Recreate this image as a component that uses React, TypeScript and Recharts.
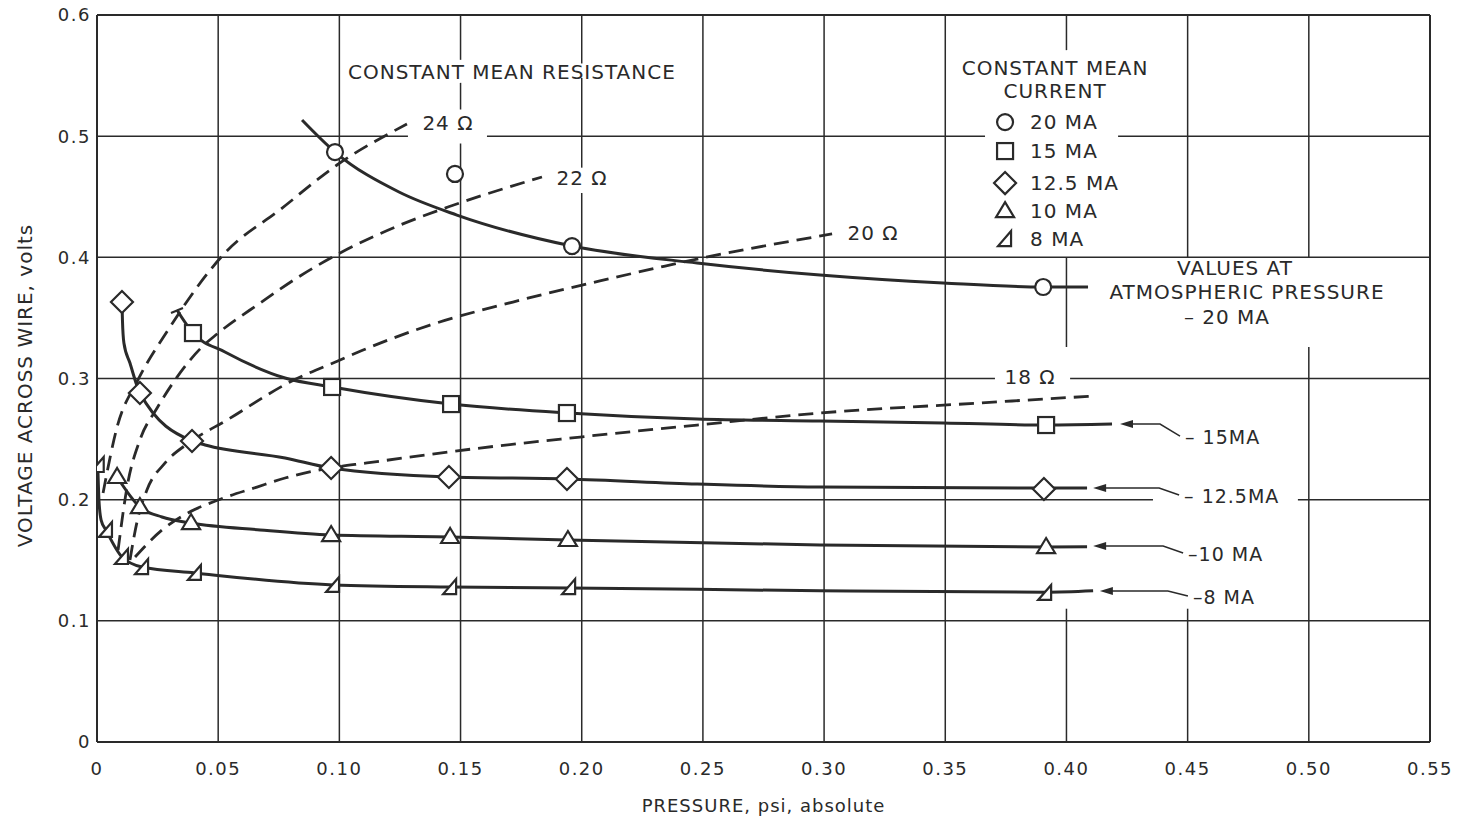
import React from 'react';
import { ComposedChart, Line, Scatter, XAxis, YAxis, ReferenceLine, ReferenceDot } from 'recharts';

const INK = '#2a2a2a';
const FONT = '"DejaVu Sans", Verdana, sans-serif';

const xTicks = [0, 0.05, 0.1, 0.15, 0.2, 0.25, 0.3, 0.35, 0.4, 0.45, 0.5, 0.55];
const yTicks = [0, 0.1, 0.2, 0.3, 0.4, 0.5, 0.6];

// constant mean current, faired curves [pressure, volts]
const ma20Curve = [[0.0846, 0.5133], [0.0982, 0.4869], [0.1246, 0.4539], [0.1485, 0.4349], [0.196, 0.4093], [0.2476, 0.3953], [0.2983, 0.3854], [0.3491, 0.3788], [0.3904, 0.3755], [0.4089, 0.3755]];
const ma15Curve = [[0.033, 0.3565], [0.0396, 0.3375], [0.0528, 0.3219], [0.0776, 0.3004], [0.097, 0.293], [0.1461, 0.2789], [0.1943, 0.2715], [0.2476, 0.2666], [0.2983, 0.2649], [0.3491, 0.2633], [0.3916, 0.2616], [0.4188, 0.2624]];
const ma125Curve = [[0.0103, 0.3631], [0.0105, 0.3483], [0.0111, 0.3293], [0.0136, 0.3128], [0.0177, 0.288], [0.0392, 0.2484], [0.0446, 0.2451], [0.0776, 0.2344], [0.0966, 0.2261], [0.1452, 0.2187], [0.1939, 0.2171], [0.2476, 0.2129], [0.2983, 0.2104], [0.3907, 0.2096], [0.4085, 0.2096]];
const ma10Curve = [[0.0083, 0.2187], [0.0177, 0.1939], [0.0268, 0.1857], [0.0388, 0.1807], [0.0673, 0.175], [0.0966, 0.1708], [0.1457, 0.1692], [0.1943, 0.1667], [0.2983, 0.1626], [0.3916, 0.1609], [0.4085, 0.1612]];
const ma8Curve = [[0.0003, 0.2286], [0.0005, 0.2162], [0.0008, 0.1997], [0.0017, 0.1832], [0.0037, 0.175], [0.0103, 0.1527], [0.0186, 0.1444], [0.0404, 0.1395], [0.0974, 0.1296], [0.1457, 0.1279], [0.1948, 0.1272], [0.2983, 0.1248], [0.3912, 0.1236], [0.411, 0.1248]];

// measured points
const ma20Marks = [[0.0982, 0.4869], [0.1477, 0.4688], [0.196, 0.4093], [0.3904, 0.3755]];
const ma15Marks = [[0.0396, 0.3375], [0.097, 0.293], [0.1461, 0.2789], [0.1939, 0.2715], [0.3916, 0.2616]];
const ma125Marks = [[0.0103, 0.3631], [0.0177, 0.288], [0.0392, 0.2484], [0.0966, 0.2261], [0.1452, 0.2187], [0.1939, 0.2171], [0.3907, 0.2088]];
const ma10Marks = [[0.0083, 0.2187], [0.0177, 0.1939], [0.0388, 0.1807], [0.0966, 0.1708], [0.1457, 0.1692], [0.1943, 0.1667], [0.3916, 0.1609]];
const ma8Marks = [[0.0003, 0.2286], [0.0037, 0.175], [0.0103, 0.1527], [0.0186, 0.1444], [0.0404, 0.1395], [0.0974, 0.1296], [0.1457, 0.1279], [0.1948, 0.1279], [0.3912, 0.123]];

// constant mean resistance (dashed)
const ohm24 = [[0.0025, 0.2055], [0.0083, 0.26], [0.0169, 0.2988], [0.0293, 0.34], [0.0528, 0.4036], [0.0759, 0.4399], [0.099, 0.4762], [0.1279, 0.51]];
const ohm22 = [[0.0087, 0.1585], [0.0124, 0.2104], [0.0177, 0.2492], [0.0248, 0.2756], [0.0322, 0.2988], [0.0433, 0.326], [0.0495, 0.3367], [0.0673, 0.3623], [0.0838, 0.3846], [0.1003, 0.4036], [0.1251, 0.4267], [0.1448, 0.4415], [0.1836, 0.4663]];
const ohm20 = [[0.0136, 0.1502], [0.0165, 0.1816], [0.0206, 0.208], [0.0281, 0.2303], [0.0384, 0.2476], [0.0536, 0.2657], [0.0796, 0.2971], [0.1003, 0.3153], [0.1098, 0.3235], [0.1374, 0.3441], [0.1716, 0.3631], [0.2075, 0.3805], [0.2344, 0.3928], [0.2496, 0.3994], [0.3033, 0.4193]];
const ohm18 = [[0.0157, 0.1527], [0.0268, 0.175], [0.0375, 0.189], [0.0499, 0.1997], [0.066, 0.2104], [0.0776, 0.2179], [0.0961, 0.2261], [0.1114, 0.2303], [0.158, 0.2426], [0.1993, 0.2517], [0.2476, 0.2616], [0.2983, 0.2715], [0.3643, 0.2798], [0.4118, 0.2856]];

const currents = ['20 MA', '15 MA', '12.5 MA', '10 MA', '8 MA'];
const arrowLabels = ['– 15MA', '– 12.5MA', '–10 MA', '–8 MA'];

const pts = (a: number[][]) => a.map(([x, y]) => ({ x, y }));

// visible pieces of the printed grid: [at, from, to]
const vGrid = [[0.05, 0, 0.6], [0.1, 0, 0.6], [0.15, 0, 0.494], [0.15, 0.522, 0.544], [0.15, 0.563, 0.6], [0.2, 0, 0.453], [0.2, 0.474, 0.548], [0.2, 0.56, 0.6], [0.25, 0, 0.6], [0.3, 0, 0.6], [0.35, 0, 0.6], [0.4, 0, 0.11], [0.4, 0.326, 0.4], [0.4, 0.571, 0.6], [0.45, 0, 0.11], [0.45, 0.4, 0.6], [0.5, 0, 0.326], [0.5, 0.4, 0.6], [0.55, 0, 0.6]];
const hGrid = [[0.1, 0, 0.55], [0.2, 0, 0.4357], [0.2, 0.4955, 0.55], [0.3, 0, 0.3705], [0.3, 0.4015, 0.55], [0.4, 0, 0.55], [0.5, 0, 0.1283], [0.5, 0.1609, 0.3664], [0.5, 0.4213, 0.55], [0.6, 0, 0.55]];

const sw = 2.2;
const Circ = ({ cx, cy }: any) => <circle cx={cx} cy={cy} r={8} fill="#fff" stroke={INK} strokeWidth={sw} />;
const Sq = ({ cx, cy }: any) => <rect x={cx - 8} y={cy - 8} width={16} height={16} fill="#fff" stroke={INK} strokeWidth={sw} />;
const Dia = ({ cx, cy }: any) => <path d={`M${cx},${cy - 11}L${cx + 11},${cy}L${cx},${cy + 11}L${cx - 11},${cy}Z`} fill="#fff" stroke={INK} strokeWidth={sw} />;
const Tri = ({ cx, cy }: any) => <path d={`M${cx},${cy - 9}L${cx + 9},${cy + 6}L${cx - 9},${cy + 6}Z`} fill="#fff" stroke={INK} strokeWidth={sw} />;
const Half = ({ cx, cy }: any) => <path d={`M${cx - 7},${cy + 7}L${cx + 6},${cy + 7}L${cx + 6},${cy - 8}Z`} fill="#fff" stroke={INK} strokeWidth={sw} />;
const symbols = [Circ, Sq, Dia, Tri, Half];

const Txt = ({ x, y, anchor = 'start', size = 20, ls = 1, children }: any) => (
  <text x={x} y={y} textAnchor={anchor} dominantBaseline="central" fontFamily={FONT} fontSize={size} letterSpacing={ls} fill={INK}>{children}</text>
);

const note = (key: string, x: number, y: number, draw: (cx: number, cy: number) => React.ReactNode) => (
  <ReferenceDot key={key} x={x} y={y} r={1} ifOverflow="visible" shape={(p: any) => <g>{draw(p.cx, p.cy)}</g>} />
);

const arrow = (cx: number, cy: number, run: number, drop: number, label: string) => (
  <g>
    <path d={`M${cx},${cy}L${cx + 13},${cy - 4}L${cx + 13},${cy + 4}Z`} fill={INK} />
    <path d={`M${cx + 10},${cy}H${cx + run}L${cx + run + 20},${cy + drop}`} fill="none" stroke={INK} strokeWidth={1.5} />
    <Txt x={cx + run + 25} y={cy + drop + 1} size={19}>{label}</Txt>
  </g>
);

const curve = (key: string, data: number[][], dashed = false) => (
  <Line key={key} data={pts(data)} dataKey="y" type="monotone" stroke={INK} strokeWidth={dashed ? 2.8 : 3} strokeDasharray={dashed ? '15 8' : undefined} dot={false} activeDot={false} isAnimationActive={false} />
);

const marks = (key: string, data: number[][], Shape: any) => (
  <Scatter key={key} data={pts(data)} isAnimationActive={false} shape={(p: any) => <Shape cx={p.cx} cy={p.cy} />} />
);

export default function App() {
  return (
    <div style={{ position: 'fixed', left: 0, top: 0, background: '#fff' }}>
      <ComposedChart width={1457} height={823} margin={{ top: 15, right: 27, bottom: 0, left: 37 }}>
        <XAxis type="number" dataKey="x" domain={[0, 0.55]} ticks={xTicks} interval={0} allowDataOverflow
          tickFormatter={(v: number) => (v === 0 ? '0' : v.toFixed(2))} tickLine={false} tickMargin={14} height={81}
          axisLine={{ stroke: INK, strokeWidth: 2 }} tick={{ fill: INK, fontSize: 18, fontFamily: FONT, letterSpacing: 1.5 }}
          label={{ content: (p: any) => <Txt x={p.viewBox.x + p.viewBox.width / 2} y={p.viewBox.y + 63} anchor="middle" size={18} ls={1}>PRESSURE, psi, absolute</Txt> }} />
        <YAxis type="number" dataKey="y" domain={[0, 0.6]} ticks={yTicks} interval={0} allowDataOverflow
          tickFormatter={(v: number) => (v === 0 ? '0' : v.toFixed(1))} tickLine={false} tickMargin={0} width={60}
          axisLine={{ stroke: INK, strokeWidth: 2 }} tick={{ fill: INK, fontSize: 18, fontFamily: FONT, letterSpacing: 1.5 }}
          label={{ content: (p: any) => (
            <text transform={`translate(${p.viewBox.x - 12},${p.viewBox.y + p.viewBox.height / 2 + 7}) rotate(-90)`} textAnchor="middle" dominantBaseline="central" fontFamily={FONT} fontSize={20} letterSpacing={1} fill={INK}>VOLTAGE ACROSS WIRE, volts</text>
          ) }} />

        {vGrid.map(([at, a, b], i) => (
          <ReferenceLine key={`v${i}`} segment={[{ x: at, y: a }, { x: at, y: b }]} stroke={INK} strokeWidth={at === 0.55 ? 2 : 1.5} ifOverflow="visible" />
        ))}
        {hGrid.map(([at, a, b], i) => (
          <ReferenceLine key={`h${i}`} segment={[{ x: a, y: at }, { x: b, y: at }]} stroke={INK} strokeWidth={at === 0.6 ? 2 : 1.5} ifOverflow="visible" />
        ))}

        {curve('r24', ohm24, true)}
        {curve('r22', ohm22, true)}
        {curve('r20', ohm20, true)}
        {curve('r18', ohm18, true)}

        {curve('c20', ma20Curve)}
        {curve('c15', ma15Curve)}
        {curve('c125', ma125Curve)}
        {curve('c10', ma10Curve)}
        {curve('c8', ma8Curve)}

        {note('tick15', ma15Curve[0][0], ma15Curve[0][1], (cx, cy) => <path d={`M${cx - 6},${cy + 3}L${cx + 6},${cy - 2}`} stroke={INK} strokeWidth={2.2} />)}

        {marks('m20', ma20Marks, Circ)}
        {marks('m15', ma15Marks, Sq)}
        {marks('m125', ma125Marks, Dia)}
        {marks('m10', ma10Marks, Tri)}
        {marks('m8', ma8Marks, Half)}

        {note('res', 0.1712, 0.5529, (cx, cy) => <Txt x={cx} y={cy} anchor="middle">CONSTANT MEAN RESISTANCE</Txt>)}
        {note('o24', 0.1448, 0.5108, (cx, cy) => <Txt x={cx} y={cy} anchor="middle">24 Ω</Txt>)}
        {note('o22', 0.2001, 0.4655, (cx, cy) => <Txt x={cx} y={cy} anchor="middle">22 Ω</Txt>)}
        {note('o20', 0.3202, 0.4201, (cx, cy) => <Txt x={cx} y={cy} anchor="middle">20 Ω</Txt>)}
        {note('o18', 0.385, 0.3012, (cx, cy) => <Txt x={cx} y={cy} anchor="middle">18 Ω</Txt>)}

        {note('legend', 0.3953, 0.5562, (cx, cy) => (
          <g>
            <Txt x={cx} y={cy} anchor="middle">CONSTANT MEAN</Txt>
            <Txt x={cx} y={cy + 23} anchor="middle">CURRENT</Txt>
            {currents.map((c, i) => {
              const S = symbols[i];
              const dy = [54, 83, 115, 143, 171][i];
              return (
                <g key={c}>
                  <S cx={cx - 50} cy={cy + dy} />
                  <Txt x={cx - 25} y={cy + dy}>{c}</Txt>
                </g>
              );
            })}
          </g>
        ))}

        {note('atm', 0.4745, 0.3714, (cx, cy) => (
          <g>
            <Txt x={cx - 12} y={cy - 24} anchor="middle">VALUES AT</Txt>
            <Txt x={cx} y={cy} anchor="middle">ATMOSPHERIC PRESSURE</Txt>
            <Txt x={cx - 20} y={cy + 25} anchor="middle">– 20 MA</Txt>
          </g>
        ))}

        {note('a15', 0.4221, 0.2624, (cx, cy) => arrow(cx, cy, 40, 12, arrowLabels[0]))}
        {note('a125', 0.411, 0.2096, (cx, cy) => arrow(cx, cy, 66, 7, arrowLabels[1]))}
        {note('a10', 0.411, 0.1618, (cx, cy) => arrow(cx, cy, 70, 7, arrowLabels[2]))}
        {note('a8', 0.4138, 0.1246, (cx, cy) => arrow(cx, cy, 68, 5, arrowLabels[3]))}
      </ComposedChart>
    </div>
  );
}
